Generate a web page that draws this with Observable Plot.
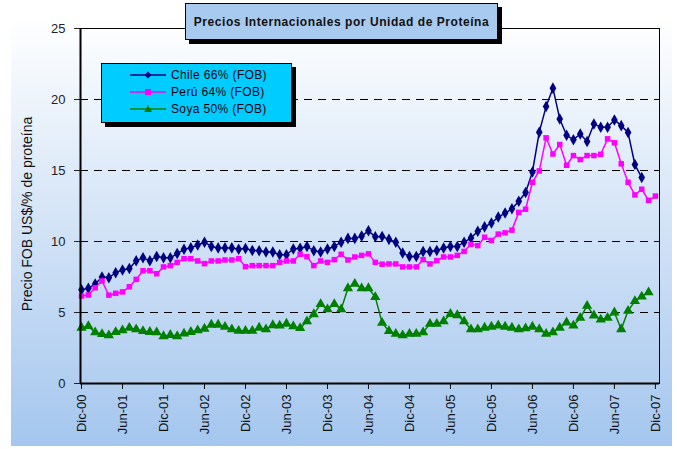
<!DOCTYPE html>
<html><head><meta charset="utf-8">
<script src="https://cdn.jsdelivr.net/npm/d3@7"></script>
<script src="https://cdn.jsdelivr.net/npm/@observablehq/plot@0.6"></script>
<style>
body{margin:0;background:#fff;}
#wrap{position:relative;width:677px;height:449px;overflow:hidden;font-family:"Liberation Sans",Arial,sans-serif;}
#bg{position:absolute;left:11px;top:0;width:661px;height:446px;background:linear-gradient(#ffffff 0%,#ffffff 4%,#a4c6ee 100%);}
#chart{position:absolute;left:0;top:0;}
#title{position:absolute;left:185px;top:3px;width:311px;height:35px;background:#a9caef;border:1px solid #000;box-shadow:4px 4px 0 #000;font-weight:bold;font-size:12px;color:#111;display:flex;align-items:center;justify-content:center;letter-spacing:0.55px;}
#legend{position:absolute;left:101px;top:63px;width:189px;height:58px;background:#00ccff;border:1px solid #000;box-shadow:4px 4px 0 #000;}
.row{position:absolute;left:28px;height:16px;display:flex;align-items:center;font-size:12px;color:#001;letter-spacing:0.35px;}
.row svg{margin-right:4px;}
</style></head>
<body>
<div id="wrap">
  <div id="bg"></div>
  <div id="chart"></div>
  <div id="title">Precios Internacionales por Unidad de Proteína</div>
  <div id="legend"></div>
</div>
<script>
const xLabels = ["Dic-00","Jun-01","Dic-01","Jun-02","Dic-02","Jun-03","Dic-03","Jun-04","Dic-04","Jun-05","Dic-05","Jun-06","Dic-06","Jun-07","Dic-07"];
const yTicks = [0,5,10,15,20,25];
const seriesNames = ["Chile 66% (FOB)","Perú 64% (FOB)","Soya 50% (FOB)"];
const seriesColors = ["#000080","#ff00ff","#008000"];
const seriesSymbols = ["diamond","square","triangle"];

const chile = [6.6,6.7,7.0,7.5,7.45,7.8,8.0,8.1,8.65,8.85,8.65,8.95,8.85,8.85,9.15,9.45,9.55,9.75,9.95,9.65,9.55,9.55,9.55,9.45,9.5,9.37,9.35,9.26,9.26,9.07,9.07,9.47,9.52,9.65,9.35,9.26,9.47,9.65,9.95,10.22,10.22,10.38,10.75,10.33,10.35,10.15,9.95,9.19,8.95,8.95,9.29,9.29,9.37,9.54,9.65,9.65,9.95,10.24,10.72,11.03,11.3,11.72,12.0,12.3,12.83,13.45,14.9,17.7,19.5,20.8,18.63,17.48,17.17,17.57,17.04,18.28,18.05,18.05,18.56,18.16,17.67,15.42,14.5];
const peru = [6.16,6.23,6.74,7.22,6.22,6.35,6.45,6.81,7.33,7.94,7.94,7.73,8.21,8.3,8.53,8.79,8.79,8.63,8.44,8.63,8.63,8.7,8.7,8.79,8.23,8.3,8.3,8.3,8.3,8.53,8.63,8.63,9.1,8.93,8.3,8.63,8.53,8.72,9.1,8.7,8.91,9.02,9.13,8.53,8.4,8.42,8.42,8.21,8.21,8.21,8.72,8.42,8.65,8.91,8.91,9.02,9.3,9.8,9.71,10.3,10.07,10.52,10.61,10.8,12.05,12.27,14.17,14.97,17.3,16.16,16.83,15.37,16.05,15.77,16.05,16.05,16.14,17.23,16.95,15.47,14.17,13.28,13.68,12.9,13.2];
const soya = [3.93,4.04,3.6,3.48,3.39,3.62,3.74,3.92,3.81,3.69,3.63,3.6,3.33,3.42,3.33,3.51,3.63,3.74,3.86,4.14,4.14,3.99,3.81,3.71,3.71,3.71,3.93,3.81,4.1,4.08,4.21,4.02,3.9,4.38,4.88,5.59,5.22,5.59,5.22,6.71,7.02,6.7,6.71,6.08,4.27,3.69,3.5,3.39,3.5,3.5,3.6,4.2,4.2,4.38,4.9,4.81,4.38,3.81,3.81,3.93,4.0,4.09,4.0,3.93,3.81,3.88,4.0,3.81,3.5,3.6,3.93,4.3,4.08,4.62,5.47,4.79,4.5,4.62,5.0,3.82,5.12,5.8,6.12,6.42];

const allSeries = [chile, peru, soya];
const xTicks = xLabels.map((d,i)=>i*6);
const symR = {diamond:3.5, square:3.1, triangle:3.8};

const marks = [
  Plot.ruleY(yTicks.filter(v=>v>0 && v<25), {stroke:"#000", strokeWidth:1, strokeDasharray:"8,6"}),
  Plot.frame({stroke:"#000", strokeWidth:1}),
  Plot.axisY({ticks:yTicks, tickSize:6, tickPadding:9, fontSize:13, label:null, color:"#222"}),
  Plot.axisX({ticks:xTicks, tickFormat:v=>xLabels[Math.round(v/6)], tickRotate:-90, tickSize:6, tickPadding:5, fontSize:13, label:null, color:"#111"}),
];
allSeries.forEach((s,k)=>{
  marks.push(Plot.lineY(s, {x:(d,i)=>i, y:d=>d, stroke:seriesColors[k], strokeWidth:1.5}));
  marks.push(Plot.dot(s, {x:(d,i)=>i, y:d=>d, symbol:seriesSymbols[k], fill:seriesColors[k], stroke:"none", r:symR[seriesSymbols[k]]}));
});
marks.push(Plot.ruleX([-0.15], {stroke:"#000", strokeWidth:2}));
marks.push(Plot.ruleY([0], {stroke:"#000", strokeWidth:2}));

const chart = Plot.plot({
  width:677, height:449,
  marginLeft:80, marginRight:18, marginTop:28, marginBottom:66,
  style:{background:"transparent", fontFamily:"Liberation Sans, Arial, sans-serif"},
  x:{type:"linear", domain:[-0.15,84.6]},
  y:{domain:[0,25]},
  marks
});
d3.select(chart).append("text")
  .attr("transform","translate(32,214) rotate(-90)")
  .attr("text-anchor","middle")
  .attr("font-size",14)
  .attr("fill","#111")
  .text("Precio FOB US$/% de proteína");
document.getElementById("chart").appendChild(chart);

const legend = document.getElementById("legend");
seriesNames.forEach((name,k)=>{
  const row = document.createElement("div");
  row.className = "row";
  row.style.top = (3 + k*17) + "px";
  const sym = seriesSymbols[k], c = seriesColors[k];
  let m = "";
  if (sym==="diamond") m = `<path d="M18,2.5L21.5,6L18,9.5L14.5,6Z" fill="${c}"/>`;
  else if (sym==="square") m = `<rect x="15" y="3" width="6" height="6" fill="${c}"/>`;
  else m = `<path d="M18,2L22,9L14,9Z" fill="${c}"/>`;
  row.innerHTML = `<svg width="37" height="12"><line x1="0" y1="6" x2="36" y2="6" stroke="${c}" stroke-width="1.5"/>${m}</svg><span>${name}</span>`;
  legend.appendChild(row);
});
</script>
</body></html>
